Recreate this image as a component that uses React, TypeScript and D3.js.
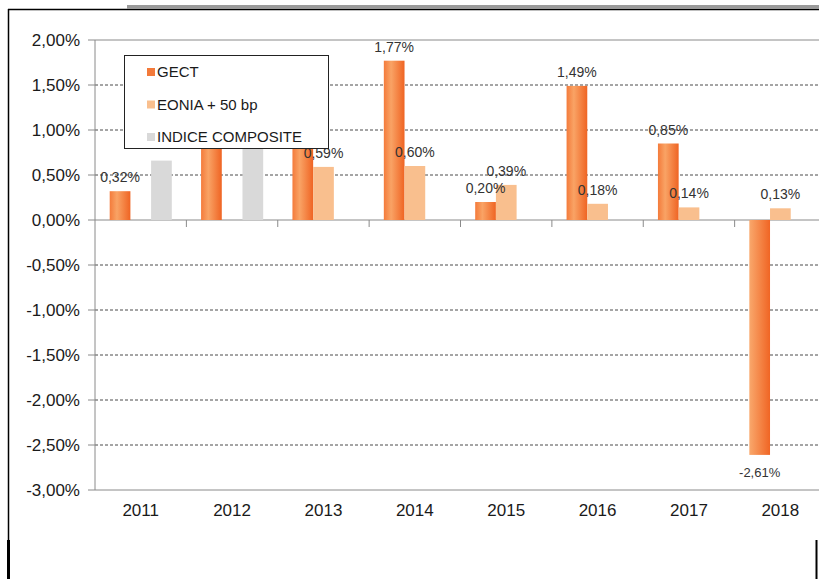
import React from 'react';
import * as d3 from 'd3';

// values in %
const years = ['2011', '2012', '2013', '2014', '2015', '2016', '2017', '2018'];
const gect = [0.32, 1.1, 0.95, 1.77, 0.2, 1.49, 0.85, -2.61];
const eonia: (number | null)[] = [null, null, 0.59, 0.6, 0.39, 0.18, 0.14, 0.13];
const indice: (number | null)[] = [0.66, 0.95, null, null, null, null, null, null];
// labels of 2012 / 2013 GECT sit behind the legend in the original
const gectLabelShown = [true, false, false, true, true, true, true, true];
const yTicks = [2, 1.5, 1, 0.5, 0, -0.5, -1, -1.5, -2, -2.5, -3];
const seriesNames = ['GECT', 'EONIA + 50 bp', 'INDICE COMPOSITE'];

const W = 819;
const H = 579;
const FONT = "'Liberation Sans', Arial, sans-serif";

const fmt = (v: number) => v.toFixed(2).replace('.', ',') + '%';

const App = () => {
  const x = d3.scaleBand<string>().domain(years).range([95, 826]);
  const inner = d3.scaleBand<string>().domain(['g', 'e', 'i']).range([14.7, 76.8]);
  const y = d3.scaleLinear().domain([-3, 2]).range([490, 40]);
  const bw = inner.bandwidth();
  const left = x.range()[0];
  const right = x.range()[1];

  const series = [
    { key: 'g', values: gect as (number | null)[], shown: gectLabelShown },
    { key: 'e', values: eonia, shown: years.map(() => true) },
    { key: 'i', values: indice, shown: years.map(() => false) },
  ];

  const fillFor = (key: string, v: number) => {
    if (key === 'g') return v < 0 ? 'url(#gectNeg)' : 'url(#gectPos)';
    if (key === 'e') return '#F9BF8E';
    return '#D9D9D9';
  };

  const legendColors = ['#F37A3A', '#F9BF8E', '#D9D9D9'];

  return (
    <svg width={W} height={H} style={{ position: 'absolute', left: 0, top: 0, background: '#fff' }} fontFamily={FONT}>
      <defs>
        <linearGradient id="gectPos" x1="0" x2="1" y1="0" y2="0">
          <stop offset="0" stopColor="#F47B3B" />
          <stop offset="0.35" stopColor="#F9A365" />
          <stop offset="1" stopColor="#EF6423" />
        </linearGradient>
        <linearGradient id="gectNeg" x1="0" x2="1" y1="0" y2="0">
          <stop offset="0" stopColor="#F9A86C" />
          <stop offset="1" stopColor="#F06524" />
        </linearGradient>
      </defs>

      {/* page frame */}
      <rect x={127} y={5} width={692} height={3.5} fill="#9a9a9a" />
      <line x1={8} x2={819} y1={9.5} y2={9.5} stroke="#000" strokeWidth={1.5} />
      <line x1={8.5} x2={8.5} y1={9} y2={540} stroke="#000" strokeWidth={1.5} />
      <line x1={8.5} x2={8.5} y1={540} y2={579} stroke="#000" strokeWidth={3} />
      <line x1={816.5} x2={816.5} y1={540} y2={579} stroke="#000" strokeWidth={2} />

      {/* gridlines */}
      {yTicks.map((t) => {
        const solid = t === 2 || t === 0 || t === -3;
        return (
          <line
            key={'g' + t}
            x1={left}
            x2={right}
            y1={y(t)}
            y2={y(t)}
            stroke={solid ? '#8a8a8a' : '#4a4a4a'}
            strokeWidth={1}
            strokeDasharray={solid ? undefined : '3,2'}
          />
        );
      })}

      {/* y axis */}
      <line x1={left} x2={left} y1={y(2)} y2={y(-3)} stroke="#8a8a8a" />
      {yTicks.map((t) => (
        <g key={'t' + t}>
          <line x1={left - 7} x2={left} y1={y(t)} y2={y(t)} stroke="#8a8a8a" />
          <text x={80} y={y(t)} dy="0.35em" textAnchor="end" fontSize={17} fill="#1a1a1a">
            {fmt(t)}
          </text>
        </g>
      ))}

      {/* category ticks on zero line */}
      {years.slice(1).map((yr) => (
        <line key={'c' + yr} x1={x(yr)!} x2={x(yr)!} y1={y(0)} y2={y(0) + 7} stroke="#8a8a8a" />
      ))}
      {years.map((yr) => (
        <text key={'l' + yr} x={x(yr)! + x.bandwidth() / 2} y={516} textAnchor="middle" fontSize={17} fill="#1a1a1a">
          {yr}
        </text>
      ))}

      {/* bars */}
      {series.map((s) =>
        s.values.map((v, i) => {
          if (v === null) return null;
          const bx = x(years[i])! + inner(s.key)!;
          const top = y(Math.max(0, v));
          const h = Math.abs(y(v) - y(0));
          return <rect key={s.key + i} x={bx} y={top} width={bw} height={h} fill={fillFor(s.key, v)} />;
        })
      )}

      {/* data labels */}
      {series.map((s) =>
        s.values.map((v, i) => {
          if (v === null || !s.shown[i]) return null;
          const cx = x(years[i])! + inner(s.key)! + bw / 2;
          return v >= 0 ? (
            <text key={'d' + s.key + i} x={cx} y={y(v) - 9} textAnchor="middle" fontSize={14} fill="#333">
              {fmt(v)}
            </text>
          ) : (
            <text key={'d' + s.key + i} x={cx} y={y(v) + 22} textAnchor="middle" fontSize={13} fill="#333">
              {fmt(v)}
            </text>
          );
        })
      )}

      {/* legend */}
      <g>
        <rect x={124.5} y={55.5} width={204} height={93} fill="#fff" stroke="#222" strokeWidth={1} />
        {seriesNames.map((n, i) => (
          <g key={n} transform={`translate(147, ${72 + i * 32.5})`}>
            <rect x={0} y={-4} width={8} height={8} fill={legendColors[i]} />
            <text x={10} y={5} fontSize={15} fill="#1a1a1a">
              {n}
            </text>
          </g>
        ))}
      </g>
    </svg>
  );
};

export default App;
